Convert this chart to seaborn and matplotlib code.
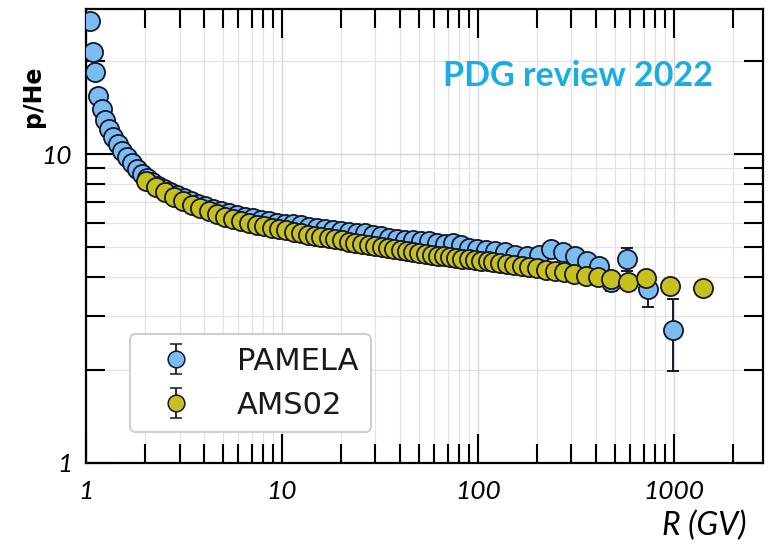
import numpy as np
import pandas as pd
import matplotlib
matplotlib.use("Agg")
import matplotlib.pyplot as plt
import seaborn as sns
from matplotlib.ticker import FixedLocator, FixedFormatter, LogLocator, NullFormatter

# PAMELA p/He ratio vs rigidity
pamela_R = [1.05, 1.09, 1.11, 1.15, 1.21, 1.25, 1.31, 1.37, 1.46, 1.53,
            1.62, 1.72, 1.82, 1.93, 2.05, 2.17, 2.33, 2.50, 2.68, 2.91,
            3.16, 3.43, 3.73, 4.05, 4.45, 4.88, 5.37, 5.89, 6.48, 7.11,
            7.82, 8.59, 9.43, 10.4, 11.4, 12.5, 13.7, 15.1, 16.6, 18.2,
            20.0, 22.0, 24.1, 26.5, 29.1, 32.0, 35.2, 38.6, 42.4, 46.6,
            51.2, 56.2, 61.8, 67.9, 74.6, 81.9, 90.0, 98.8, 110, 122,
            137, 155, 178, 205, 236, 272, 313, 360, 414, 477,
            576, 737, 988]
pamela_ratio = [26.9, 21.4, 18.4, 15.4, 13.98, 12.88, 12.05, 11.35, 10.77, 10.22,
                9.78, 9.35, 8.94, 8.62, 8.36, 8.12, 7.88, 7.70, 7.53, 7.37,
                7.20, 7.05, 6.89, 6.79, 6.64, 6.54, 6.44, 6.35, 6.25, 6.21,
                6.11, 6.07, 5.98, 5.94, 5.94, 5.89, 5.80, 5.76, 5.72, 5.68,
                5.63, 5.59, 5.57, 5.55, 5.47, 5.43, 5.35, 5.31, 5.27, 5.26,
                5.23, 5.22, 5.15, 5.11, 5.15, 5.08, 4.96, 4.93, 4.89, 4.86,
                4.82, 4.71, 4.68, 4.71, 4.93, 4.82, 4.68, 4.51, 4.34, 3.85,
                4.57, 3.66, 2.69]
pamela_err = [0.40, 0.30, 0.25, 0.20, 0.15, 0.12, 0.10, 0.10, 0.08, 0.08,
              0.07, 0.07, 0.06, 0.06, 0.06, 0.05, 0.05, 0.05, 0.05, 0.05,
              0.05, 0.05, 0.05, 0.05, 0.05, 0.05, 0.05, 0.05, 0.05, 0.05,
              0.05, 0.05, 0.05, 0.05, 0.05, 0.05, 0.05, 0.05, 0.05, 0.05,
              0.06, 0.06, 0.06, 0.06, 0.06, 0.07, 0.07, 0.07, 0.08, 0.08,
              0.08, 0.09, 0.09, 0.10, 0.10, 0.10, 0.11, 0.11, 0.12, 0.12,
              0.13, 0.13, 0.14, 0.14, 0.15, 0.15, 0.16, 0.17, 0.18, 0.25,
              0.38, 0.46, 0.70]

# AMS-02 p/He ratio vs rigidity
ams_R = [2.03, 2.27, 2.53, 2.82, 3.13, 3.46, 3.83, 4.22, 4.65, 5.12,
         5.63, 6.18, 6.77, 7.42, 8.11, 8.86, 9.67, 10.5, 11.5, 12.5,
         13.5, 14.7, 15.9, 17.3, 18.7, 20.3, 21.9, 23.7, 25.7, 27.7,
         29.9, 32.3, 34.8, 37.5, 40.4, 43.5, 46.8, 50.3, 54.1, 58.2,
         62.5, 67.2, 72.3, 77.7, 83.4, 89.7, 96.4, 104, 112, 120,
         130, 141, 153, 167, 183, 201, 222, 246, 275, 310,
         355, 410, 480, 580, 720, 950, 1400]
ams_ratio = [8.18, 7.82, 7.53, 7.26, 7.05, 6.84, 6.69, 6.54, 6.40, 6.25,
             6.16, 6.07, 5.98, 5.89, 5.85, 5.76, 5.72, 5.68, 5.59, 5.55,
             5.47, 5.43, 5.39, 5.35, 5.31, 5.27, 5.19, 5.15, 5.11, 5.08,
             5.04, 5.00, 4.96, 4.93, 4.89, 4.86, 4.82, 4.78, 4.75, 4.71,
             4.68, 4.67, 4.64, 4.61, 4.57, 4.56, 4.54, 4.51, 4.50, 4.47,
             4.44, 4.41, 4.37, 4.34, 4.31, 4.28, 4.21, 4.18, 4.15, 4.09,
             4.03, 4.00, 3.94, 3.85, 3.97, 3.74, 3.68]
ams_err = [0.05, 0.05, 0.04, 0.04, 0.04, 0.04, 0.04, 0.04, 0.04, 0.04,
           0.04, 0.04, 0.04, 0.04, 0.04, 0.04, 0.04, 0.04, 0.04, 0.04,
           0.04, 0.04, 0.04, 0.04, 0.04, 0.04, 0.04, 0.04, 0.04, 0.04,
           0.04, 0.04, 0.04, 0.04, 0.04, 0.04, 0.04, 0.04, 0.04, 0.04,
           0.04, 0.04, 0.04, 0.04, 0.04, 0.05, 0.05, 0.05, 0.05, 0.05,
           0.05, 0.05, 0.06, 0.06, 0.06, 0.06, 0.07, 0.07, 0.07, 0.08,
           0.08, 0.09, 0.10, 0.11, 0.12, 0.14, 0.15]

x_ticks = [1, 10, 100, 1000]
x_tick_labels = ["1", "10", "100", "1000"]
y_ticks = [1, 10]
y_tick_labels = ["1", "10"]

BLUE = "#7bbcf2"
OLIVE = "#c6c11d"
EDGE = "#15182a"

sns.set_theme(style="white")
plt.rcParams["font.family"] = ["DejaVu Sans"]

pam = pd.DataFrame({"R": pamela_R, "ratio": pamela_ratio, "err": pamela_err})
ams = pd.DataFrame({"R": ams_R, "ratio": ams_ratio, "err": ams_err})

fig = plt.figure(figsize=(7.68, 5.47), dpi=100)
ax = fig.add_axes([0.1120, 0.1536, 0.8815, 0.8300])
ax.set_xscale("log")
ax.set_yscale("log")

err_kw = dict(fmt="none", ecolor=EDGE, elinewidth=1.4, capsize=4.5, capthick=1.4)
ax.errorbar(pam["R"], pam["ratio"], yerr=pam["err"], zorder=3, **err_kw)
sns.scatterplot(data=pam, x="R", y="ratio", s=190, color=BLUE, edgecolor=EDGE,
                linewidth=1.3, zorder=4, ax=ax, legend=False)
ax.errorbar(ams["R"], ams["ratio"], yerr=ams["err"], zorder=5, **err_kw)
sns.scatterplot(data=ams, x="R", y="ratio", s=190, color=OLIVE, edgecolor=EDGE,
                linewidth=1.3, zorder=6, ax=ax, legend=False)

ax.set_xlim(1, 2850)
ax.set_ylim(1, 29.5)
ax.set_autoscale_on(False)

# legend handles: marker with capped error bar (placeholder points, not shown)
hkw = dict(fmt="o", ms=12, mec=EDGE, mew=1.1, ecolor=EDGE, elinewidth=1.3,
           capsize=4.5, capthick=1.3)
h_pam = ax.errorbar([np.nan], [np.nan], yerr=[np.nan], mfc=BLUE, **hkw)
h_ams = ax.errorbar([np.nan], [np.nan], yerr=[np.nan], mfc=OLIVE, **hkw)
leg = ax.legend([h_pam, h_ams], ["PAMELA", "AMS02"], loc="lower left",
                bbox_to_anchor=(0.065, 0.068), borderaxespad=0, fontsize=22,
                handlelength=2.2, handletextpad=0.9, labelspacing=0.5,
                borderpad=0.4, frameon=True, fancybox=True, framealpha=1,
                edgecolor="#cfcfcf")
leg.get_frame().set_linewidth(1.5)
for t in leg.get_texts():
    t.set_color("#1a1a1a")

# log axes with decade labels only
ax.xaxis.set_major_locator(FixedLocator(x_ticks))
ax.xaxis.set_major_formatter(FixedFormatter(x_tick_labels))
ax.xaxis.set_minor_locator(LogLocator(base=10, subs=np.arange(2, 10), numticks=30))
ax.xaxis.set_minor_formatter(NullFormatter())
ax.yaxis.set_major_locator(FixedLocator(y_ticks))
ax.yaxis.set_major_formatter(FixedFormatter(y_tick_labels))
ax.yaxis.set_minor_locator(LogLocator(base=10, subs=np.arange(2, 10), numticks=30))
ax.yaxis.set_minor_formatter(NullFormatter())

ax.tick_params(which="both", direction="in", top=True, right=True, bottom=True,
               left=True, colors="black", width=1.5)
ax.tick_params(which="major", length=21)
ax.tick_params(which="minor", length=14)
ax.tick_params(axis="x", which="major", pad=12)
ax.tick_params(axis="y", which="major", pad=10)
for lbl in ax.get_xticklabels() + ax.get_yticklabels():
    lbl.set_fontfamily("Lato")
    lbl.set_fontstyle("italic")
    lbl.set_fontsize(19)
    lbl.set_color("black")

ax.grid(True, which="major", color="#d6d6d6", lw=1.0)
ax.grid(True, which="minor", color="#e2e2e2", lw=0.9)
ax.set_axisbelow(True)

for s in ax.spines.values():
    s.set_color("black")
    s.set_linewidth(1.6)

ax.set_xlabel("R (GV)", fontsize=23, fontstyle="italic", fontfamily="Lato",
              color="black", loc="right")
ax.xaxis.set_label_coords(0.976, -0.105)
ax.set_ylabel("p/He", fontsize=17, fontweight="bold", color="black")
ax.yaxis.set_label_coords(-0.078, 0.808)
ax.yaxis.label.set_va("center")

ax.text(0.527, 0.852, "PDG review 2022", transform=ax.transAxes, ha="left",
        va="center", fontsize=24.5, fontweight="bold", fontfamily="Lato",
        color="#1aade3", zorder=7)

fig.savefig("out.png", dpi=100)
